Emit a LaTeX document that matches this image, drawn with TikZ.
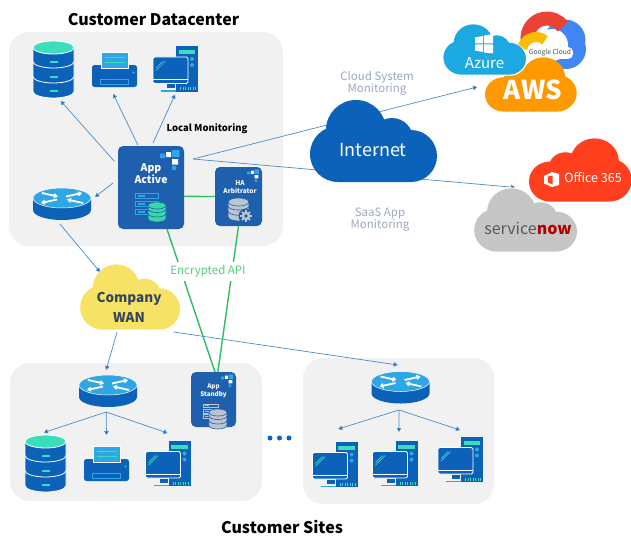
\documentclass[tikz,border=0pt]{standalone}
\usepackage{fontspec}
\usepackage{xcolor}
\usepackage{tikz}
\setmainfont{Noto Sans CJK SC}
\usetikzlibrary{arrows.meta,calc}

\definecolor{panelGray}{HTML}{F1F1F1}
\definecolor{iconBlue}{HTML}{0B62B8}
\definecolor{appBlue}{HTML}{1F60AE}
\definecolor{skyBlue}{HTML}{2FA7E6}
\definecolor{mintTeal}{HTML}{3CDDBB}
\definecolor{flowBlue}{HTML}{4A8CCB}
\definecolor{apiGreen}{HTML}{2DBE5E}
\definecolor{labelGray}{HTML}{9AA8BE}
\definecolor{wanYellow}{HTML}{F6E365}
\definecolor{wanText}{HTML}{37455F}
\definecolor{azureBlue}{HTML}{1CA8E0}
\definecolor{awsOrange}{HTML}{FF9900}
\definecolor{officeRed}{HTML}{FF3F1E}
\definecolor{snowGray}{HTML}{C6C6C6}
\definecolor{discGray}{HTML}{BBC4CF}
\definecolor{googleBlue}{HTML}{4285F4}
\definecolor{googleRed}{HTML}{EA4335}
\definecolor{googleYellow}{HTML}{FBBC05}

\tikzset{
    panel/.style={fill=panelGray, rounded corners=20pt},
    flow/.style={draw=flowBlue, line width=0.7pt, -{Triangle[length=4pt,width=4.5pt,fill=iconBlue]}},
    apilink/.style={draw=apiGreen, line width=1.4pt},
    appbox/.style={fill=appBlue, rounded corners=5pt, inner sep=0pt},
    spot/.style={inner sep=0pt},
    dbspot/.style={spot, minimum width=41pt, minimum height=57pt},
    printerspot/.style={spot, minimum width=45pt, minimum height=35pt},
    pcspot/.style={spot, minimum width=45pt, minimum height=45pt},
    routerspot/.style={spot, minimum width=58pt, minimum height=32pt},
    titletext/.style={font=\fontsize{16}{18}\selectfont\bfseries},
    graytext/.style={text=labelGray, align=center, font=\fontsize{11.5}{12}\selectfont},
    apptext/.style={text=white, align=center, inner sep=0pt},
    pics/cloudblob/.style={code={
        \fill[pic actions] (-18,11) circle[radius=30] (-36,-13) circle[radius=28]
            (18,2) circle[radius=21] (37,-15) circle[radius=26] (37,-41) rectangle (-36,-13);
    }},
    pics/dbstack/.style={code={
        \foreach \yT/\yB in {-7/-22, 8/-7, 22/8} {
            \fill[iconBlue, draw=white, line width=0.8pt] (-20.5,\yT) -- (-20.5,\yB)
                arc[start angle=180, end angle=360, x radius=20.5, y radius=6.5] -- (20.5,\yT) -- cycle;
        }
        \fill[mintTeal, draw=white, line width=0.8pt] (0,22) ellipse[x radius=20.5, y radius=6.5];
        \foreach \yD in {7.5,-7,-21} {
            \fill[mintTeal] (-4,\yD-1) rectangle (4,\yD+1);
        }
    }},
    pics/printericon/.style={code={
        \fill[iconBlue, rounded corners=2.5pt] (-22.5,-17.5) rectangle (22.5,4.5);
        \fill[skyBlue, draw=white, line width=0.5pt] (-13.5,1.5) rectangle (13.5,17.5);
        \draw[mintTeal, line width=0.6pt] (-10,12.5) -- (10,12.5) (-10,7) -- (10,7);
        \draw[skyBlue, line width=0.7pt] (-14.5,-14.5) rectangle (13.5,-9.5);
        \fill[mintTeal] (19,-3) circle[radius=1];
    }},
    pics/pcicon/.style={code={
        \fill[iconBlue] (1,-22.5) rectangle (23,22.5);
        \fill[mintTeal] (3.5,15) rectangle (20,19);
        \fill[skyBlue] (17,10) circle[radius=2] (17,4) circle[radius=2];
        \foreach \xK in {5,7.5,...,21} {
            \fill[mintTeal] (\xK,-21) rectangle (\xK+1.3,-18);
        }
        \fill[iconBlue] (-8,-19) rectangle (0,-15);
        \fill[skyBlue] (-14,-22.5) rectangle (1,-21);
        \fill[iconBlue, draw=white, line width=0.8pt, rounded corners=1.5pt] (-22,-14.5) rectangle (13,12);
        \draw[white, line width=0.6pt] (-22,-10.5) -- (13,-10.5);
        \draw[mintTeal, line width=0.7pt] (-19,1) -- (-12,8) (-19,-1.5) -- (-9.5,8);
    }},
    pics/routericon/.style={code={
        \fill[iconBlue] (-29,6) -- (-29,-6) arc[start angle=180, end angle=360, x radius=29, y radius=10] -- (29,6) -- cycle;
        \fill[skyBlue, draw=white, line width=0.5pt] (0,6) ellipse[x radius=29, y radius=10];
        \draw[white, line width=1.8pt, -{Triangle[length=4pt,width=5pt]}] (-20,11) -- (-4,7.5);
        \draw[white, line width=1.8pt, -{Triangle[length=4pt,width=5pt]}] (4,7.5) -- (20,11);
        \draw[white, line width=1.8pt, -{Triangle[length=4pt,width=5pt]}] (-5,4.5) -- (-21,1);
        \draw[white, line width=1.8pt, -{Triangle[length=4pt,width=5pt]}] (21,1) -- (5,4.5);
    }},
    pics/logomark/.style={code={
        \fill[skyBlue] (-12,-11) rectangle (-4.5,-4) (-24,-12) rectangle (-19,-7.5) (-12,-24) rectangle (-8,-20);
        \fill[white] (-18,-11) rectangle (-13,-6) (-12,-18.5) rectangle (-6,-13);
    }},
    pics/stackdisc/.style={code={
        \foreach \yT/\yB in {-8/-13, -3.5/-8, 0/-3.5} {
            \fill[#1, draw=appBlue, line width=0.6pt] (-9,\yT) -- (-9,\yB)
                arc[start angle=180, end angle=360, x radius=9, y radius=3.5] -- (9,\yT) -- cycle;
        }
        \fill[#1, draw=appBlue, line width=0.6pt] (0,0) ellipse[x radius=9, y radius=3.5];
    }},
    pics/serverdisc/.style 2 args={code={
        \foreach \yS in {9.5,1.5,-6.5} {
            \draw[#1, line width=1pt] (-15,\yS-2.5) rectangle (8,\yS+3);
            \fill[#1] (-12.5,\yS-0.5) rectangle (-6,\yS+1);
        }
        \pic at (6.5,0) {stackdisc={#2}};
    }},
    pics/gearmark/.style={code={
        \fill[appBlue] (0,0) circle[radius=7.5];
        \foreach \a in {0,45,...,315} {
            \draw[discGray, line width=1.7pt] (0,0) -- (\a:5.8);
        }
        \fill[discGray] (0,0) circle[radius=4.3];
        \fill[appBlue] (0,0) circle[radius=1.9];
    }},
}

\begin{document}
\begin{tikzpicture}[x=1pt, y=1pt]
    \useasboundingbox (0,0) rectangle (631,-535);

    % Panels
    \fill[panel] (9,-32) rectangle (283,-246);
    \fill[panel] (10,-363) rectangle (262,-501);
    \fill[panel] (303,-358) rectangle (494,-504);

    % Boxes and places of the icons
    \node[appbox, minimum width=66pt, minimum height=83pt] (appActive) at (151,-187.5) {};
    \node[appbox, minimum width=47pt, minimum height=59pt] (haArbitrator) at (238.5,-196.5) {};
    \node[appbox, minimum width=45pt, minimum height=55pt] (appStandby) at (213.5,-399.5) {};

    \node[dbspot, outer sep=3pt] (dbTop) at (53.5,-69.5) {};
    \node[printerspot, outer sep=7pt] (printerTop) at (114.5,-69.5) {};
    \node[pcspot, outer sep=3pt] (pcTop) at (175,-69) {};
    \node[routerspot, outer sep=4pt] (routerTop) at (62,-204) {};
    \node[routerspot, outer sep=5pt] (routerA) at (108,-391) {};
    \node[dbspot, outer sep=2.5pt] (dbA) at (45.5,-463.5) {};
    \node[printerspot, outer sep=11pt] (printerA) at (106.5,-463.5) {};
    \node[pcspot, outer sep=8pt] (pcA) at (167.5,-463.5) {};
    \node[routerspot, outer sep=6.5pt] (routerB) at (400.5,-387.5) {};
    \node[pcspot, outer sep=13pt] (pcB1) at (334.5,-464.5) {};
    \node[pcspot, outer sep=9pt] (pcB2) at (394.5,-463.5) {};
    \node[pcspot, outer sep=7pt] (pcB3) at (460,-459.5) {};

    \node[spot, minimum width=99pt, minimum height=66pt, outer sep=2pt] (wanCloud) at (130.5,-297) {};
    \node[spot, minimum width=82pt, minimum height=51pt, outer sep=12pt] (azureCloud) at (485,-49.5) {};
    \node[spot, minimum width=102pt, minimum height=64pt, outer sep=14pt] (officeCloud) at (580,-170) {};
    \coordinate (wanIn) at (100,-272);
    \coordinate (cloudFork) at (193,-159);

    % Monitoring links
    \draw[flow, shorten <=5pt] (appActive.146) -- (dbTop.-77);
    \draw[flow, shorten <=1pt] (appActive.107) -- (printerTop.-93);
    \draw[flow, shorten <=3pt] (appActive.89) -- (pcTop.south);
    \draw[flow, shorten <=6pt] (appActive.166) -- (routerTop.12);
    \draw[flow] (cloudFork) -- (azureCloud.-102);
    \draw[flow] (cloudFork) -- (officeCloud.195);
    \draw[flow] (routerTop.-96) -- (wanIn);
    \draw[flow] (wanCloud.-111) -- (routerA.95);
    \draw[flow] (wanCloud.-39) -- (routerB.97);
    \draw[flow] (routerA.-95) -- (dbA.93);
    \draw[flow] (routerA.-95) -- (printerA.north);
    \draw[flow] (routerA.-95) -- (pcA.north);
    \draw[flow] (routerB.-94) -- (pcB1.84);
    \draw[flow] (routerB.-94) -- (pcB2.82);
    \draw[flow] (routerB.-94) -- (pcB3.north);

    % Encrypted links
    \draw[apilink] (appActive.-15) -- (haArbitrator.west);
    \draw[apilink] (appActive.-69) -- (appStandby.87);
    \draw[apilink] (haArbitrator.south) -- (appStandby.81);
    \node[fill=white, text=apiGreen!80!white, inner sep=1pt, minimum height=19pt, font=\fontsize{11.5}{12}\selectfont] (apiText) at (208,-271) {Encrypted API};

    % Icons
    \pic at (dbTop) {dbstack};
    \pic at (printerTop) {printericon};
    \pic at (pcTop) {pcicon};
    \pic at (routerTop) {routericon};
    \pic at (routerA) {routericon};
    \pic at (dbA) {dbstack};
    \pic at (printerA) {printericon};
    \pic at (pcA) {pcicon};
    \pic at (routerB) {routericon};
    \pic at (pcB1) {pcicon};
    \pic at (pcB2) {pcicon};
    \pic at (pcB3) {pcicon};

    % Contents of the app boxes
    \pic at (184,-146) {logomark};
    \node[apptext, font=\fontsize{10.5}{11.5}\selectfont\bfseries] (appActiveText) at (151,-173.5) {App\\Active};
    \pic at (150.5,-205.5) {serverdisc={skyBlue}{mintTeal!80!apiGreen}};
    \pic[scale=0.62] at (262,-167) {logomark};
    \node[apptext, font=\fontsize{6.5}{8}\selectfont\bfseries] (haArbitratorText) at (240,-187) {HA\\Arbitrator};
    \pic[scale=1.15] at (238.5,-202) {stackdisc={discGray}};
    \pic at (246,-216) {gearmark};
    \pic[scale=0.62] at (236,-372) {logomark};
    \node[apptext, font=\fontsize{6.3}{7.5}\selectfont\bfseries] (appStandbyText) at (213.5,-391) {App\\Standby};
    \pic[scale=0.68] at (213.5,-412.5) {serverdisc={discGray}{discGray}};

    % Google Cloud
    \fill[googleBlue] (565,-40) circle[radius=20.5] (566,-49) circle[radius=20];
    \fill[white] (552,-45) circle[radius=16];
    \draw[googleRed, line width=14pt] (547,-38) ++(190:19.5) arc[start angle=190, end angle=36, radius=19.5];
    \draw[googleYellow, line width=10pt] (536,-51) ++(170:14) arc[start angle=170, end angle=50, radius=14];
    \fill[white, rounded corners=5pt] (528,-59) rectangle (573,-47);
    \node[text=black!70, inner sep=0pt, font=\fontsize{6.7}{8}\selectfont] (googleText) at (550,-52.5) {Google Cloud};

    % Clouds
    \pic[fill=awsOrange, xscale=-0.722, yscale=0.663] at (530.5,-84.5) {cloudblob};
    \pic[fill=white, xscale=0.67, yscale=0.64] at (485,-49.5) {cloudblob};
    \pic[fill=azureBlue, xscale=0.65, yscale=0.614] at (485,-49.5) {cloudblob};
    \pic[fill=officeRed, xscale=-0.81, yscale=0.771] at (580,-170) {cloudblob};
    \pic[fill=white, xscale=0.83, yscale=0.795] at (526,-220) {cloudblob};
    \pic[fill=snowGray, xscale=0.81, yscale=0.771] at (526,-220) {cloudblob};
    \pic[fill=iconBlue] at (374,-141) {cloudblob};
    \pic[fill=wanYellow, xscale=0.786, yscale=0.795] at (130.5,-297) {cloudblob};

    % Small logos
    \fill[white] (475,-37.5) -- (483,-36) -- (483,-43.5) -- (475,-43.5) -- cycle;
    \fill[white] (484,-35.5) -- (493,-34) -- (493,-43.5) -- (484,-43.5) -- cycle;
    \fill[white] (475,-44.5) -- (483,-44.5) -- (483,-52) -- (475,-50.5) -- cycle;
    \fill[white] (484,-44.5) -- (493,-44.5) -- (493,-53.5) -- (484,-52.5) -- cycle;
    \fill[white] (552,-172) -- (559,-174) -- (559,-185) -- (552,-187) -- (544,-183.5) -- (544,-176) -- cycle;
    \fill[officeRed] (548,-176.5) -- (552.5,-175.5) -- (552.5,-184.5) -- (548,-182.5) -- cycle;

    % Cloud names
    \node[text=white, font=\fontsize{18}{20}\selectfont] (internetText) at (373,-150) {Internet};
    \node[text=wanText, align=center, inner sep=0pt, font=\fontsize{13.5}{20}\selectfont\bfseries] (wanText) at (129,-307) {Company\\WAN};
    \node[text=white, font=\fontsize{15}{16}\selectfont] (azureText) at (484.5,-63) {Azure};
    \node[text=white, font=\fontsize{26}{28}\selectfont\bfseries] (awsText) at (533,-90) {AWS};
    \node[text=white, font=\fontsize{12.5}{14}\selectfont] (officeText) at (593,-178) {Office 365};
    \node[inner sep=0pt, font=\fontsize{16}{18}\selectfont] (snowText) at (528,-228) {\textcolor{black!65}{service}\textcolor{red!70!black}{\textbf{now}}};

    % Texts
    \node[titletext] (datacenterTitle) at (153.5,-20) {Customer Datacenter};
    \node[titletext] (sitesTitle) at (282,-526.5) {Customer Sites};
    \node[font=\fontsize{9.5}{10}\selectfont\bfseries] (localText) at (207,-129) {Local Monitoring};
    \node[graytext] (cloudText) at (377,-83) {Cloud System\\Monitoring};
    \node[graytext] (saasText) at (380,-220) {SaaS App\\Monitoring};

    % Dots between the sites
    \foreach \xD in {270,279.5,289} {
        \fill[iconBlue] (\xD,-438) circle[radius=2.5];
    }
\end{tikzpicture}
\end{document}
